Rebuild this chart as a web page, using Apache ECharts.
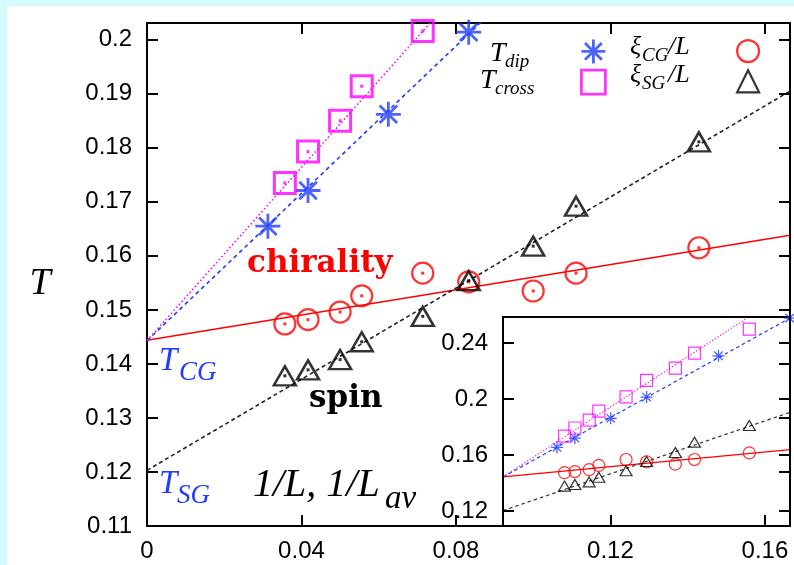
<!DOCTYPE html>
<html>
<head>
<meta charset="utf-8">
<script src="https://cdn.jsdelivr.net/npm/echarts@6/dist/echarts.min.js"></script>
<style>
html,body{margin:0;padding:0;background:#d4fbfd;width:794px;height:565px;overflow:hidden;}
#c{position:absolute;left:7px;top:6px;width:787px;height:559px;background:#fff;}
</style>
</head>
<body>
<div id="c"></div>
<script>
// ---- data ----
var xL = [0.0357, 0.0417, 0.0500, 0.0556, 0.0714, 0.0833, 0.1000, 0.1111, 0.1429];   // 1/L
var xDip = [0.0313, 0.0417, 0.0625, 0.0833, 0.1250, 0.1663];                          // 1/L_av
var tDip = [0.1655, 0.1721, 0.1862, 0.2014, 0.2309, 0.2578];
var tCross = [0.1735, 0.1793, 0.1850, 0.1914, 0.2016, 0.2133, 0.2221, 0.2328, 0.2499];
var xiCG = [0.1474, 0.1482, 0.1496, 0.1526, 0.1568, 0.1552, 0.1535, 0.1568, 0.1615];
var xiSG = [0.1378, 0.1389, 0.1408, 0.1441, 0.1488, 0.1554, 0.1618, 0.1692, 0.1811];
// fitted lines (end points)
var fitCG = [[0, 0.1444], [0.1665, 0.1638]];
var fitSG = [[0, 0.1203], [0.1665, 0.1905]];
var fitDip = [[0, 0.1443], [0.1665, 0.2578]];
var fitCross = [[0, 0.1443], [0.1425, 0.2586]];
var mainXTicks = [0, 0.04, 0.08, 0.12, 0.16];
var insetYTicks = [0.12, 0.16, 0.2, 0.24];

function pairs(xs, ys) { return ys.map(function (y, i) { return [xs[i], y]; }); }

var BLUE = '#1f3cff', MAG = '#ff00ff', RED = '#ff0000', BLK = '#000000';
var ASTER = 'path://M10 0L10 20M0 10L20 10M3 3L17 17M3 17L17 3';
var TR = 'rgba(0,0,0,0)';

var chart = echarts.init(document.getElementById('c'), null, {renderer: 'canvas'});

var OX = 7, OY = 6; // chart offset in page
function P(x) { return x - OX; }
function Q(y) { return y - OY; }

function mainLabelX(v) {
  for (var i = 0; i < mainXTicks.length; i++) {
    if (Math.abs(v - mainXTicks[i]) < 1e-6) return mainXTicks[i] === 0 ? '0' : mainXTicks[i].toFixed(2);
  }
  return '';
}
function mainLabelY(v) {
  var r = Math.round(v * 100);
  if (Math.abs(v * 100 - r) > 1e-4) return '';
  return String(parseFloat((r / 100).toFixed(2)));
}

var tickFont = {fontSize: 24, color: '#000', fontFamily: 'Liberation Sans'};
var axLine = {show: true, onZero: false, lineStyle: {color: '#000', width: 2}};
var tickIn = {show: true, inside: true, length: 11, lineStyle: {color: '#000', width: 2}};

function T(txt, x, y, size, opts) {
  opts = opts || {};
  return {
    type: 'text', x: P(x), y: Q(y), z: 20,
    style: {
      text: txt,
      font: (opts.style || 'italic') + ' ' + (opts.weight || 'normal') + ' ' + size + 'px ' + (opts.family || '"Liberation Serif"'),
      fill: opts.color || '#000',
      align: opts.align || 'left',
      verticalAlign: 'middle'
    }
  };
}

var graphics = [
  T('T', 40, 284, 38, {align: 'center'}),
  T('chirality', 247, 264, 31, {style: 'normal', weight: 'bold', family: '"DejaVu Serif"', color: RED}),
  T('spin', 309, 399, 31, {style: 'normal', weight: 'bold', family: '"DejaVu Serif"'}),
  T('T', 159, 361, 33, {color: BLUE}),
  T('CG', 179, 373, 27, {color: BLUE}),
  T('T', 159, 484, 33, {color: BLUE}),
  T('SG', 177, 496, 27, {color: BLUE}),
  T('1/L, 1/L', 253, 485, 40),
  T('av', 385, 499, 33),
  T('T', 490, 54, 28),
  T('dip', 505, 62, 19),
  T('T', 480, 81, 28),
  T('cross', 495, 89, 19),
  T('\u03be', 630, 47, 26),
  T('CG', 642, 56, 19),
  T('/L', 668, 47, 26),
  T('\u03be', 630, 75, 26),
  T('SG', 642, 84, 19),
  T('/L', 668, 75, 26)
];

function scatter(name, xi, yi, data, symbol, size, color, bw, z) {
  return {
    name: name, type: 'scatter', xAxisIndex: xi, yAxisIndex: yi, data: data,
    symbol: symbol, symbolSize: size, z: z, clip: true,
    itemStyle: {color: TR, borderColor: color, borderWidth: bw},
    emphasis: {disabled: true}
  };
}
function dots(xi, yi, data, color, z) {
  return {
    type: 'scatter', xAxisIndex: xi, yAxisIndex: yi, data: data, symbol: 'rect', symbolSize: 3,
    z: z, clip: true, itemStyle: {color: color}, emphasis: {disabled: true}
  };
}
function fit(xi, yi, data, color, type, w, z) {
  return {
    type: 'line', xAxisIndex: xi, yAxisIndex: yi, data: data, symbol: 'none', z: z, clip: true,
    lineStyle: {color: color, type: type, width: w}, emphasis: {disabled: true}
  };
}

var dCross = pairs(xL, tCross), dDip = pairs(xDip, tDip), dCG = pairs(xL, xiCG), dSG = pairs(xL, xiSG);

var series = [
  // main
  fit(0, 0, fitCG, RED, 'solid', 1.5, 2),
  fit(0, 0, fitSG, '#222', [4, 3], 1.6, 2),
  fit(0, 0, fitDip, BLUE, [4, 3.5], 1.6, 2),
  fit(0, 0, fitCross, MAG, [1.5, 2.5], 1.6, 2),
  scatter('Tdip', 0, 0, dDip, ASTER, 25, BLUE, 2.8, 3),
  scatter('Tcross', 0, 0, dCross, 'rect', 21, MAG, 3, 3),
  scatter('xiCG', 0, 0, dCG, 'circle', 21, RED, 2.2, 3),
  scatter('xiSG', 0, 0, dSG, 'triangle', [22, 19], BLK, 2.5, 3),
  dots(0, 0, dCross, MAG, 4),
  dots(0, 0, dCG, RED, 4),
  dots(0, 0, dSG, BLK, 4),
  // inset
  fit(2, 2, fitCG, RED, 'solid', 1.2, 6),
  fit(2, 2, fitSG, '#333', [3.5, 3], 1.2, 6),
  fit(2, 2, fitDip, BLUE, [3.5, 3], 1.2, 6),
  fit(2, 2, fitCross, MAG, [1.2, 2], 1.2, 6),
  scatter('iDip', 2, 2, dDip, ASTER, 12, BLUE, 1.3, 7),
  scatter('iCross', 2, 2, dCross, 'rect', 12, MAG, 1.2, 7),
  scatter('iCG', 2, 2, dCG, 'circle', 12, RED, 1.2, 7),
  scatter('iSG', 2, 2, dSG, 'triangle', [12, 10], BLK, 1.2, 7)
];

var option = {
  animation: false,
  backgroundColor: '#fff',
  grid: [
    {left: P(147), top: Q(23), width: 643, height: 503, show: false, containLabel: false},
    {left: P(503), top: Q(317), width: 287, height: 209, show: true, backgroundColor: '#fff', borderWidth: 0, z: 5}
  ],
  xAxis: [
    {gridIndex: 0, type: 'value', min: 0, max: 0.1665, interval: 0.04, position: 'bottom', z: 8,
     axisLine: axLine, axisTick: tickIn, splitLine: {show: false},
     axisLabel: Object.assign({margin: 13, formatter: mainLabelX}, tickFont)},
    {gridIndex: 0, type: 'value', min: 0, max: 0.1665, interval: 0.04, position: 'top',
     axisLine: axLine, axisTick: tickIn, splitLine: {show: false}, axisLabel: {show: false}},
    {gridIndex: 1, type: 'value', min: 0, max: 0.1665, position: 'bottom', z: 7,
     axisLine: axLine, axisTick: {show: false}, splitLine: {show: false}, axisLabel: {show: false}},
    {gridIndex: 1, type: 'value', min: 0, max: 0.1665, position: 'top', z: 7,
     axisLine: axLine, axisTick: {show: false}, splitLine: {show: false}, axisLabel: {show: false}}
  ],
  yAxis: [
    {gridIndex: 0, type: 'value', min: 0.11, max: 0.2031, interval: 0.01, position: 'left',
     axisLine: axLine, axisTick: tickIn, splitLine: {show: false},
     axisLabel: Object.assign({margin: 15, formatter: mainLabelY}, tickFont)},
    {gridIndex: 0, type: 'value', min: 0.11, max: 0.2031, interval: 0.01, position: 'right', z: 8,
     axisLine: axLine, axisTick: tickIn, splitLine: {show: false}, axisLabel: {show: false}},
    {gridIndex: 1, type: 'value', min: 0.1093, max: 0.2586, position: 'left', z: 7,
     axisLine: axLine,
     axisTick: Object.assign({customValues: insetYTicks}, tickIn),
     splitLine: {show: false},
     axisLabel: Object.assign({margin: 15, customValues: insetYTicks, formatter: function (v) { return String(parseFloat(v.toFixed(2))); }}, tickFont)},
    {gridIndex: 1, type: 'value', min: 0.1093, max: 0.2586, position: 'right', z: 7,
     axisLine: axLine,
     axisTick: Object.assign({customValues: insetYTicks}, tickIn),
     splitLine: {show: false}, axisLabel: {show: false}}
  ],
  legend: [
    {data: ['Tdip', 'Tcross'], orient: 'vertical', left: P(592) - 12, top: Q(50) - 12, padding: 0,
     itemWidth: 24, itemHeight: 24, itemGap: 4, selectedMode: false, formatter: function () { return ''; },
     itemStyle: {borderWidth: 2.8}, z: 10},
    {data: ['xiCG', 'xiSG'], orient: 'vertical', left: P(747) - 11, top: Q(50) - 11, padding: 0,
     itemWidth: 22, itemHeight: 22, itemGap: 6, selectedMode: false, formatter: function () { return ''; },
     itemStyle: {borderWidth: 2.2}, z: 10}
  ],
  graphic: graphics,
  series: series
};
chart.setOption(option);
</script>
</body>
</html>
